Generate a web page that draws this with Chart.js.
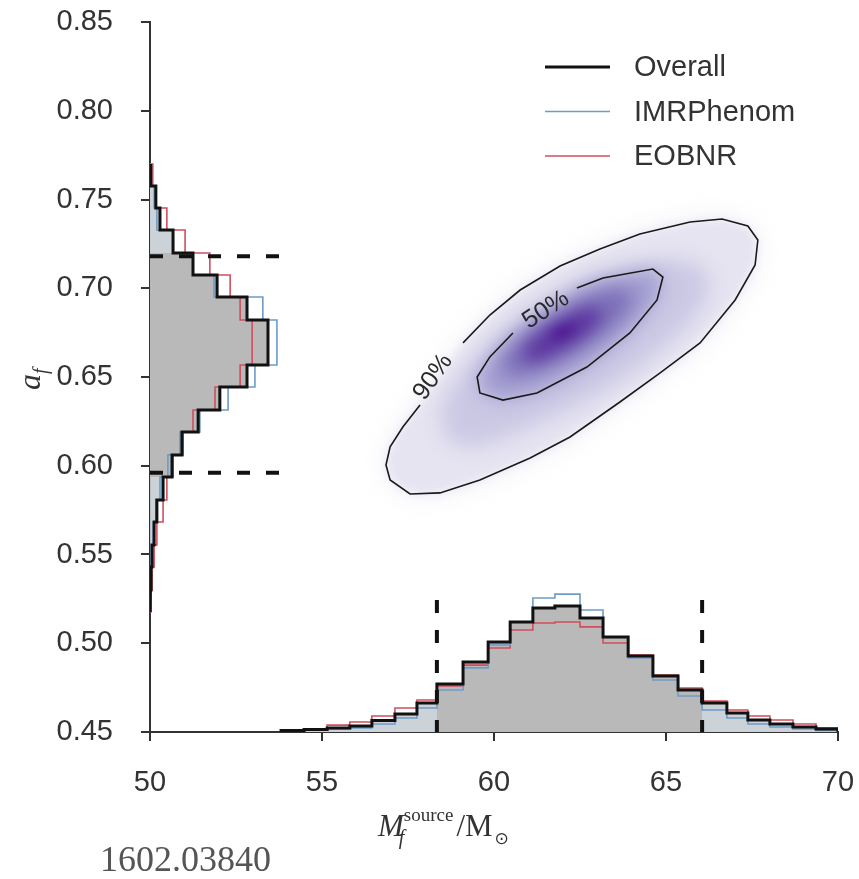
<!DOCTYPE html>
<html><head><meta charset="utf-8">
<script src="https://cdn.jsdelivr.net/npm/chart.js@4.4.1/dist/chart.umd.min.js"></script>
<style>html,body{margin:0;padding:0;background:#fff}#wrap{position:relative;width:859px;height:879px}</style>
</head><body><div id="wrap"><canvas id="c"></canvas></div>
<script>
// ---------- data ----------
const xTicks = [50, 55, 60, 65, 70];
const yTicks = [0.45, 0.50, 0.55, 0.60, 0.65, 0.70, 0.75, 0.80, 0.85];
const legendLabels = ['Overall', 'IMRPhenom', 'EOBNR'];

// final mass marginal (bin edges in M_sun, bin tops in a_f axis units)
const massEdges = [53.81, 54.48, 55.15, 55.81, 56.45, 57.12, 57.76, 58.34, 59.10, 59.83, 60.47, 61.13, 61.77, 62.50, 63.17, 63.90, 64.62, 65.35, 66.05, 66.77, 67.38, 68.02, 68.69, 69.36, 70.00];
const massOverall = [0.4509,0.4514,0.4523,0.4534,0.4565,0.4601,0.4663,0.4770,0.4894,0.5007,0.5120,0.5199,0.5210,0.5142,0.5035,0.4928,0.4815,0.4737,0.4663,0.4607,0.4568,0.4545,0.4528,0.4517];
const massIMR = [0.4506,0.4512,0.4517,0.4523,0.4545,0.4579,0.4635,0.4737,0.4861,0.4990,0.5120,0.5255,0.5277,0.5187,0.5035,0.4917,0.4793,0.4703,0.4624,0.4579,0.4545,0.4528,0.4517,0.4509];
const massEOB = [0.4506,0.4517,0.4539,0.4556,0.4590,0.4635,0.4680,0.4759,0.4877,0.4973,0.5075,0.5114,0.5120,0.5092,0.5001,0.4934,0.4821,0.4748,0.4675,0.4624,0.4590,0.4568,0.4545,0.4523];
const massInterval = [58.34, 66.05];

// final spin marginal (bin edges in a_f, bar extents in M axis units)
const spinEdges = [0.7700,0.7576,0.7452,0.7328,0.7199,0.7075,0.6951,0.6821,0.6697,0.6568,0.6444,0.6314,0.6190,0.6061,0.5937,0.5807,0.5683,0.5554,0.5430,0.5300,0.5176];
const spinOverall = [50.02,50.17,50.29,50.67,51.25,51.95,52.82,53.43,53.43,52.82,52.03,51.40,50.93,50.64,50.38,50.20,50.12,50.06,50.03,50.01];
const spinIMR = [50.04,50.12,50.20,50.67,51.25,51.86,53.28,53.69,53.69,53.05,52.27,51.45,50.87,50.52,50.29,50.17,50.09,50.04,50.03,50.01];
const spinEOB = [50.08,50.15,50.49,51.02,51.74,52.33,52.62,52.97,52.97,52.62,51.89,51.25,50.96,50.67,50.49,50.38,50.20,50.12,50.06,50.03];
const spinInterval = [0.596, 0.718];

// 2D credible contours (open where the label sits)
const contour90 = [[57.85,0.6342],[57.35,0.6218],[56.98,0.6106],[56.86,0.6004],[56.98,0.5920],[57.56,0.5841],[58.43,0.5847],[59.59,0.5920],[61.05,0.6044],[62.21,0.6162],[63.66,0.6359],[64.83,0.6523],[65.99,0.6692],[67.01,0.6934],[67.59,0.7131],[67.67,0.7272],[67.38,0.7351],[66.63,0.7390],[65.70,0.7373],[64.24,0.7306],[63.08,0.7221],[61.92,0.7125],[60.76,0.6990],[59.88,0.6849],[59.10,0.6692]];
const contour50 = [[62.41,0.7001],[63.17,0.7058],[64.62,0.7108],[64.91,0.7063],[64.74,0.6934],[63.95,0.6748],[62.70,0.6556],[61.25,0.6410],[60.26,0.6370],[59.59,0.6410],[59.51,0.6500],[59.88,0.6613],[60.55,0.6748]];
const contourLabels = ['90%', '50%'];
const labelPos = [[58.23, 0.6500], [61.51, 0.6878]];
const labelAngle = [-55, -33];

// density shading levels (outer to inner)
const level70 = [[58.43,0.6258],[58.72,0.6117],[59.59,0.6100],[61.05,0.6213],[62.79,0.6370],[64.24,0.6551],[65.70,0.6793],[66.34,0.6990],[66.13,0.7131],[65.12,0.7170],[63.66,0.7114],[61.92,0.6979],[60.47,0.6793],[59.16,0.6539],[58.49,0.6370]];
const level30 = [[64.13,0.6985],[63.80,0.6837],[62.45,0.6643],[60.95,0.6506],[60.12,0.6520],[60.45,0.6668],[61.79,0.6862],[63.29,0.6999]];
const level15 = [[63.18,0.6881],[63.00,0.6786],[62.19,0.6671],[61.28,0.6584],[60.80,0.6597],[60.97,0.6692],[61.77,0.6807],[62.68,0.6894]];
const levelCore = [[62.50,0.6800],[62.20,0.6735],[61.70,0.6705],[61.60,0.6745],[62.00,0.6790]];
const densityLevels = [contour90, contour90, level70, contour50, level30, level15, levelCore];
const densityColors = ['#eeedf6', '#e6e4f1', '#cbc8e4', '#a09bcf', '#7b6db7', '#5d36a0', '#4d1490'];
const densityBlur = [14, 5, 10, 10, 9, 8, 6];

// ---------- helpers ----------
function hStairs(edges, tops, base, i0, i1) {
  const pts = [{x: edges[i0], y: base}];
  for (let i = i0; i < i1; i++) { pts.push({x: edges[i], y: tops[i]}, {x: edges[i+1], y: tops[i]}); }
  pts.push({x: edges[i1], y: base});
  return pts;
}
function vStairs(edges, widths, base, i0, i1) {
  const pts = [{x: base, y: edges[i0]}];
  for (let i = i0; i < i1; i++) { pts.push({x: widths[i], y: edges[i]}, {x: widths[i], y: edges[i+1]}); }
  pts.push({x: base, y: edges[i1]});
  return pts;
}
const toXY = a => a.map(p => ({x: p[0], y: p[1]}));
const BLACK = '#111111', BLUE = '#6d9cc8', RED = '#cf4f5c', GRAYIN = '#b9b9b9', GRAYOUT = '#ccd3d8';
const nM = massOverall.length, nS = spinOverall.length;
const iM0 = massEdges.indexOf(massInterval[0]), iM1 = massEdges.indexOf(massInterval[1]);
const iS0 = 4, iS1 = 14;

function fillDs(data, color, order) {
  return {data, showLine: true, fill: 'shape', backgroundColor: color, borderColor: 'rgba(0,0,0,0)', borderWidth: 0, pointRadius: 0, order};
}
function lineDs(data, color, width, order, dash) {
  return {data, showLine: true, fill: false, borderColor: color, borderWidth: width, pointRadius: 0, order,
    borderJoinStyle: 'miter', borderCapStyle: 'butt', borderDash: dash || []};
}

const datasets = [
  fillDs(hStairs(massEdges, massOverall, 0.45, 0, nM), GRAYOUT, 20),
  fillDs(vStairs(spinEdges, spinOverall, 50, 0, nS), GRAYOUT, 20),
  fillDs(hStairs(massEdges, massOverall, 0.45, iM0, iM1), GRAYIN, 19),
  fillDs(vStairs(spinEdges, spinOverall, 50, iS0, iS1), GRAYIN, 19),
  lineDs(hStairs(massEdges, massEOB, 0.45, 0, nM), RED, 1.6, 8),
  lineDs(vStairs(spinEdges, spinEOB, 50, 0, nS), RED, 1.6, 8),
  lineDs(hStairs(massEdges, massIMR, 0.45, 0, nM), BLUE, 1.6, 7),
  lineDs(vStairs(spinEdges, spinIMR, 50, 0, nS), BLUE, 1.6, 7),
  lineDs(hStairs(massEdges, massOverall, 0.45, 0, nM), BLACK, 3, 6),
  lineDs(vStairs(spinEdges, spinOverall, 50, 0, nS), BLACK, 3, 6),
  lineDs([{x: massInterval[0], y: 0.5244}, {x: massInterval[0], y: 0.45}], BLACK, 4, 5, [13, 17]),
  lineDs([{x: massInterval[1], y: 0.5244}, {x: massInterval[1], y: 0.45}], BLACK, 4, 5, [13, 17]),
  lineDs([{x: 50, y: spinInterval[0]}, {x: 53.84, y: spinInterval[0]}], BLACK, 4, 5, [13, 16]),
  lineDs([{x: 50, y: spinInterval[1]}, {x: 53.84, y: spinInterval[1]}], BLACK, 4, 5, [13, 16]),
  lineDs(toXY(contour90), '#1a1a1a', 1.6, 2),
  lineDs(toXY(contour50), '#1a1a1a', 1.6, 2)
];

// ---------- plugins ----------
const densityPlugin = {
  id: 'density',
  beforeDatasetsDraw(chart) {
    const {ctx, chartArea: a, scales: {x, y}} = chart;
    ctx.save();
    ctx.beginPath(); ctx.rect(a.left, a.top, a.width, a.height); ctx.clip();
    densityLevels.forEach((lv, i) => {
      const P = lv.map(p => [x.getPixelForValue(p[0]), y.getPixelForValue(p[1])]);
      ctx.filter = 'blur(' + densityBlur[i] + 'px)';
      ctx.fillStyle = densityColors[i];
      ctx.beginPath();
      const n = P.length;
      const mid = (p, q) => [(p[0] + q[0]) / 2, (p[1] + q[1]) / 2];
      let m = mid(P[n-1], P[0]);
      ctx.moveTo(m[0], m[1]);
      for (let j = 0; j < n; j++) {
        const q = mid(P[j], P[(j+1) % n]);
        ctx.quadraticCurveTo(P[j][0], P[j][1], q[0], q[1]);
      }
      ctx.closePath(); ctx.fill();
    });
    ctx.restore();
  }
};

const textPlugin = {
  id: 'texts',
  afterDraw(chart) {
    const {ctx, scales: {x, y}} = chart;
    ctx.save();
    // contour labels
    ctx.fillStyle = '#2a2a2a';
    ctx.font = '25px "Liberation Sans", Arial, sans-serif';
    ctx.textAlign = 'center'; ctx.textBaseline = 'middle';
    contourLabels.forEach((t, i) => {
      ctx.save();
      ctx.translate(x.getPixelForValue(labelPos[i][0]), y.getPixelForValue(labelPos[i][1]));
      ctx.rotate(labelAngle[i] * Math.PI / 180);
      ctx.fillText(t, 0, 0);
      ctx.restore();
    });
    // legend
    const lcol = [BLACK, BLUE, RED], lw = [3, 1.6, 1.6];
    ctx.font = '29px "Liberation Sans", Arial, sans-serif';
    ctx.textAlign = 'left'; ctx.textBaseline = 'middle';
    legendLabels.forEach((t, i) => {
      const yy = 67 + i * 44.5;
      ctx.strokeStyle = lcol[i]; ctx.lineWidth = lw[i];
      ctx.beginPath(); ctx.moveTo(545, yy); ctx.lineTo(610, yy); ctx.stroke();
      ctx.fillStyle = '#333';
      ctx.fillText(t, 634, yy + 1);
    });
    // x-axis title: M_f^source / M_sun
    ctx.fillStyle = '#333';
    ctx.textBaseline = 'alphabetic';
    let cx = 378; const by = 836;
    ctx.font = 'italic 31px "Liberation Serif", "DejaVu Serif", serif';
    ctx.fillText('M', cx, by);
    const wM = ctx.measureText('M').width;
    ctx.font = 'italic 20px "Liberation Serif", serif';
    ctx.fillText('f', cx + wM - 5, by + 8);
    ctx.font = '19px "Liberation Serif", serif';
    ctx.fillText('source', cx + wM, by - 15);
    cx += wM + ctx.measureText('source').width + 3;
    ctx.font = '31px "Liberation Serif", serif';
    ctx.fillText('/M', cx, by);
    cx += ctx.measureText('/M').width + 2;
    ctx.font = '17px "DejaVu Sans", sans-serif';
    ctx.fillText('\u2299', cx, by + 8);
    // y-axis title: a_f
    ctx.save();
    ctx.translate(40, 390);
    ctx.rotate(-Math.PI / 2);
    ctx.font = 'italic 32px "Liberation Serif", serif';
    ctx.fillText('a', 0, 0);
    const wa = ctx.measureText('a').width;
    ctx.font = 'italic 20px "Liberation Serif", serif';
    ctx.fillText('f', wa, 7);
    ctx.restore();
    // arXiv id
    ctx.font = '36px "Liberation Serif", "DejaVu Serif", serif';
    ctx.fillStyle = '#555';
    ctx.fillText('1602.03840', 100, 871);
    ctx.restore();
  }
};

const tickFont = {family: '"Liberation Sans", Arial, sans-serif', size: 29};
new Chart(document.getElementById('c'), {
  type: 'scatter',
  data: {datasets},
  options: {
    responsive: true, maintainAspectRatio: false, animation: false,
    layout: {padding: {top: 22, right: 21, left: 0, bottom: 0}},
    plugins: {legend: {display: false}, tooltip: {enabled: false}},
    scales: {
      x: {
        type: 'linear', min: 50, max: 70,
        afterBuildTicks: s => { s.ticks = xTicks.map(v => ({value: v})); },
        ticks: {font: tickFont, color: '#333', padding: 25, maxRotation: 0, callback: v => String(v)},
        grid: {drawOnChartArea: false, drawTicks: true, tickLength: 9, color: '#333', lineWidth: 2},
        border: {color: '#333', width: 2},
        afterFit: s => { s.height = 147; s.paddingLeft = 0; s.paddingRight = 0; }
      },
      y: {
        type: 'linear', min: 0.45, max: 0.85,
        afterBuildTicks: s => { s.ticks = yTicks.map(v => ({value: v})); },
        ticks: {font: tickFont, color: '#333', padding: 28, callback: v => Number(v).toFixed(2)},
        grid: {drawOnChartArea: false, drawTicks: true, tickLength: 9, color: '#333', lineWidth: 2},
        border: {color: '#333', width: 2},
        afterFit: s => { s.width = 150; s.paddingTop = 0; s.paddingBottom = 0; }
      }
    }
  },
  plugins: [densityPlugin, textPlugin]
});
</script></body></html>
